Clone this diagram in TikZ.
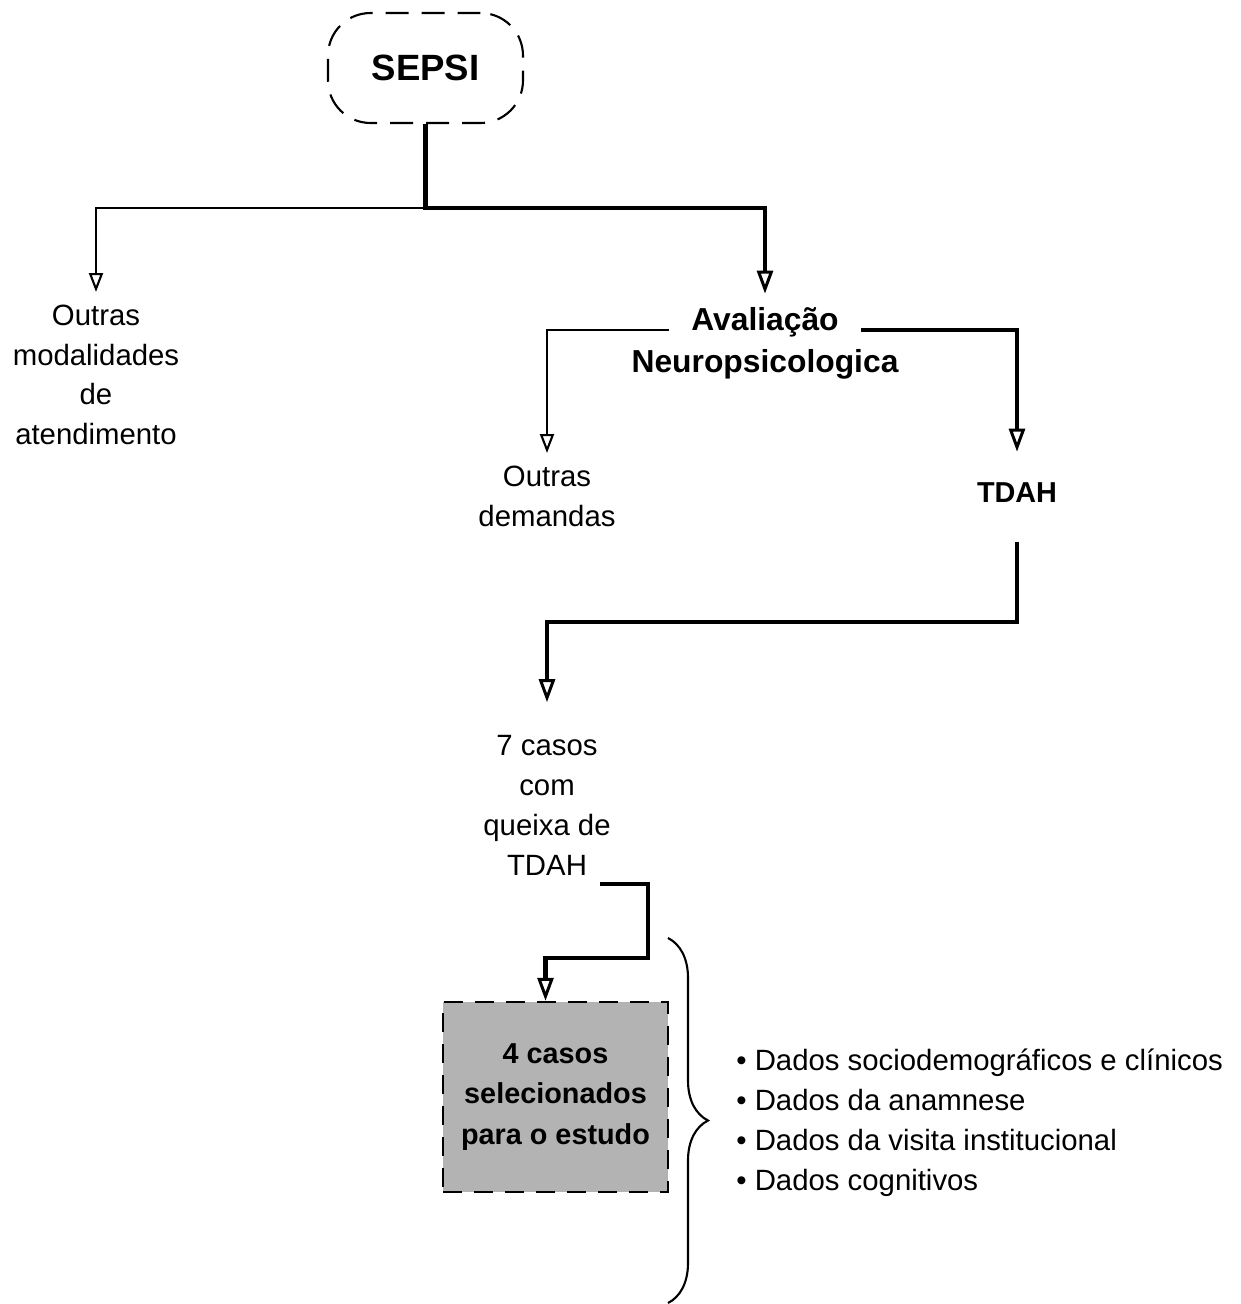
\documentclass[tikz,border=0pt]{standalone}
\usepackage{fontspec}
\setmainfont{Liberation Sans}
\usetikzlibrary{arrows.meta,decorations.pathreplacing}
\definecolor{boxgray}{HTML}{B3B3B3}
\tikzset{
  sideflow/.style={line width=1.2pt,-{Triangle[open,length=0.38cm,width=0.28cm]}},
  mainflow/.style={line width=2.4pt,-{Triangle[open,length=0.46cm,width=0.32cm,line width=1.7pt]}},
  txt/.style={align=center,font=\fontsize{16.7}{22.7}\selectfont},
  btxt/.style={align=center,font=\bfseries\fontsize{18.1}{23.8}\selectfont},
  origin/.style={draw,line width=1.2pt,dash pattern=on 0.46cm off 0.26cm,rounded corners=0.85cm,
    minimum width=3.9cm,minimum height=2.2cm,font=\bfseries\fontsize{20.8}{25}\selectfont},
  selbox/.style={draw,fill=boxgray,line width=1.4pt,dash pattern=on 0.38cm off 0.24cm,
    minimum width=4.5cm,minimum height=3.8cm,align=center,font=\bfseries\fontsize{16.4}{23}\selectfont},
  tdahlbl/.style={font=\bfseries\fontsize{16.4}{20}\selectfont,inner sep=0pt,
    text height=1cm,text depth=0.8cm,anchor=base}
}
\begin{document}
\begin{tikzpicture}[x=0.02cm,y=-0.02cm]
\useasboundingbox (0,0) rectangle (1240,1304);
% top of the chart
\node [origin] (sepsi) at (425.5,68) {SEPSI};
\coordinate (fork) at (425.5,208);
\node [txt,anchor=north,inner sep=7pt] (outras) at (96,292) {Outras\\modalidades\\de\\atendimento};
\node [btxt,anchor=base,inner xsep=0.44cm,inner ysep=0.26cm] (aval) at (765,330) {Avaliação};
\node [btxt,anchor=base] (neuro) at (765,372) {Neuropsicologica};
\draw [sideflow] (fork) -| (outras.north);
\draw [mainflow] (sepsi.south) -- (fork) -| (aval.north);
% second level
\node [txt,anchor=north,inner sep=7pt] (demandas) at (547,453) {Outras\\demandas};
\node [tdahlbl] (tdah) at (1017,502) {TDAH};
\draw [sideflow] (aval.base west) -| (demandas.north);
\draw [mainflow] (aval.base east) -| (tdah.north);
% cases
\node [txt,inner xsep=2pt,inner ysep=0.66cm] (casos) at (547,805.5) {7 casos\\com\\queixa de\\TDAH};
\coordinate (casosout) at (600,884);
\draw [mainflow] (tdah.south) -- ++(0,80) -| (casos.north);
\node [selbox] (estudo) at (555.5,1097) {4 casos\\selecionados\\para o estudo};
\draw [mainflow] (casosout) -| ++(48,74) -| ([xshift=-0.2cm]estudo.north);
% data collected
\coordinate (bracetop) at (668,938);
\coordinate (bracebot) at (668,1303);
\draw [line width=1.2pt,decorate,decoration={brace,amplitude=0.8cm}] (bracetop) -- (bracebot);
\node [txt,align=left,anchor=west,inner sep=0pt] (dados) at (736,1123)
  {• Dados sociodemográficos e clínicos\\• Dados da anamnese\\• Dados da visita institucional\\• Dados cognitivos};
\end{tikzpicture}
\end{document}
